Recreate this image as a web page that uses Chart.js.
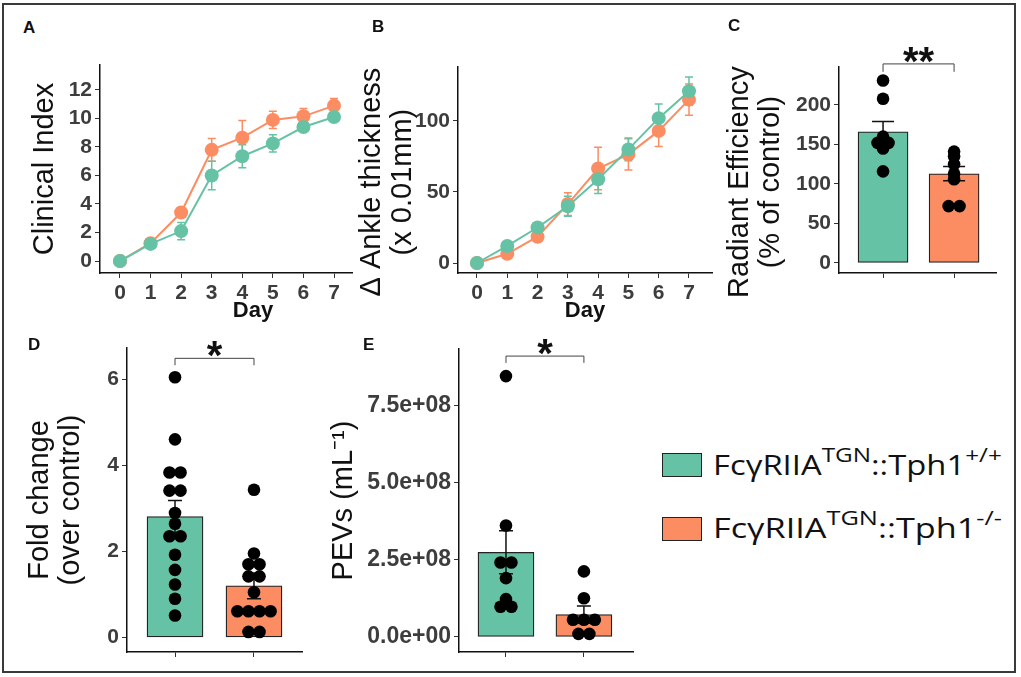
<!DOCTYPE html>
<html>
<head>
<meta charset="utf-8">
<script src="https://cdn.jsdelivr.net/npm/chart.js@4.4.1/dist/chart.umd.min.js"></script>
<style>
  body { margin: 0; background: #fff; width: 1021px; height: 677px; position: relative; overflow: hidden; font-family: 'Liberation Sans', Arial, sans-serif; }
  .frame { position: absolute; left: 2px; top: 3px; width: 1014px; height: 670px; box-sizing: border-box; border: 2px solid #3a3a3a; }
  canvas { position: absolute; }
  .lab { position: absolute; font-weight: bold; font-size: 17px; line-height: 1; color: #111; }
  .box { position: absolute; left: 662px; width: 40px; height: 24px; box-sizing: border-box; border: 1.5px solid #222; }
  .leg { position: absolute; left: 713px; font-family: 'Open Sans'; font-size: 27px; line-height: 27px; white-space: nowrap; transform-origin: 0 0; color: #111; }
  .leg sup { font-size: 20px; vertical-align: 13px; line-height: 0; }
</style>
</head>
<body>
<div class="frame"></div>

<canvas id="cA" width="406" height="290" style="left:10px;top:45px"></canvas>
<canvas id="cB" width="367" height="290" style="left:353px;top:45px;background:#fff"></canvas>
<canvas id="cC" width="290" height="295" style="left:720px;top:40px"></canvas>
<canvas id="cD" width="300" height="340" style="left:10px;top:325px"></canvas>
<canvas id="cE" width="325" height="340" style="left:320px;top:325px"></canvas>

<div class="lab" style="left:23px;top:19px">A</div>
<div class="lab" style="left:372px;top:18px">B</div>
<div class="lab" style="left:728px;top:17px">C</div>
<div class="lab" style="left:28px;top:336px">D</div>
<div class="lab" style="left:363px;top:336px">E</div>

<div class="box" style="top:453px;background:#66c2a5"></div>
<div class="leg" style="top:451px">FcγRIIA<sup>TGN</sup>::Tph1<sup>+/+</sup></div>
<div class="box" style="top:517px;background:#fc8d62"></div>
<div class="leg" style="top:514px">FcγRIIA<sup>TGN</sup>::Tph1<sup>-/-</sup></div>

<script>
const green = '#66c2a5';
const orange = '#fc8d62';

// A: clinical index per day
const days = [0, 1, 2, 3, 4, 5, 6, 7];
const clinGreen = [0, 1.2, 2.1, 6.0, 7.35, 8.25, 9.4, 10.1];
const clinGreenErr = [0, 0.1, 0.6, 1.0, 0.8, 0.6, 0.3, 0.3];
const clinOrange = [0, 1.25, 3.4, 7.8, 8.65, 9.9, 10.15, 10.9];
const clinOrangeErr = [0, 0.1, 0.3, 0.8, 1.2, 0.6, 0.55, 0.5];
const clinTicks = [0, 2, 4, 6, 8, 10, 12];

// B: ankle thickness per day
const ankGreen = [0, 12, 25, 40, 59, 80, 102, 121];
const ankGreenErr = [0, 2, 3, 7, 10, 8, 10, 10];
const ankOrange = [0, 6.5, 18.5, 41.5, 66.5, 76.5, 93, 115];
const ankOrangeErr = [0, 1.5, 3, 8, 15, 11, 11, 11];
const ankTicks = [0, 50, 100];

// C: radiant efficiency
const radMeans = [166, 113];
const radErr = [13, 9];
const radGreenPts = [231, 208, 160, 152, 152, 145, 116];
const radOrangePts = [141, 135, 125, 113, 106, 72, 72];
const radTicks = [0, 50, 100, 150, 200];

// D: fold change
const foldMeans = [2.81, 1.2];
const foldErr = [0.37, 0.3];
const foldGreenPts = [6.04, 4.6, 3.83, 3.83, 3.41, 3.41, 2.89, 2.64, 2.35, 2.35, 1.92, 1.57, 1.23, 0.9, 0.51];
const foldOrangePts = [3.43, 1.95, 1.7, 1.7, 1.42, 1.42, 1.05, 0.61, 0.61, 0.61, 0.61, 0.13, 0.13];
const foldTicks = [0, 2, 4, 6];

// E: PEVs per mL
const pevMeans = [2.75e8, 0.73e8];
const pevErr = [0.7e8, 0.28e8];
const pevGreenPts = [8.47e8, 3.62e8, 2.42e8, 2.42e8, 1.91e8, 1.23e8, 0.98e8, 0.98e8];
const pevOrangePts = [2.13e8, 1.26e8, 0.56e8, 0.56e8, 0.56e8, 0.1e8, 0.1e8];
const pevTicks = [0, 2.5e8, 5e8, 7.5e8];

Chart.defaults.font.family = "'Liberation Sans', Arial, sans-serif";
Chart.defaults.animation = false;

const titleFont = { size: 29, lineHeight: 1.07 };

function axisY(min, max, ticks, fmt, title, width, titlePad, tickSize) {
  return {
    type: 'linear', min: min, max: max, bounds: 'data',
    afterBuildTicks: s => { s.ticks = ticks.map(v => ({ value: v })); },
    afterFit: s => { s.width = width; s.paddingTop = 0; s.paddingBottom = 0; },
    grid: { drawOnChartArea: false, drawTicks: true, tickLength: 5, color: '#333' },
    border: { display: true, color: '#111', width: 1.5 },
    ticks: { color: '#3d3d3d', font: { size: tickSize || 21, weight: 'bold' }, padding: 3, callback: fmt },
    title: { display: true, text: title, color: '#111', font: titleFont, padding: { top: titlePad, bottom: 0 } }
  };
}

function axisX(min, max, ticks, height, title) {
  return {
    type: 'linear', min: min, max: max, bounds: 'data', offset: false,
    afterBuildTicks: s => { s.ticks = ticks.map(v => ({ value: v })); },
    afterFit: s => { s.height = height; s.paddingLeft = 0; s.paddingRight = 0; },
    grid: { offset: false, drawOnChartArea: false, drawTicks: true, tickLength: 5, color: '#333' },
    border: { display: true, color: '#111', width: 1.5 },
    ticks: { display: !!title, color: '#3d3d3d', font: { size: 21, weight: 'bold' }, padding: 3, maxRotation: 0 },
    title: { display: !!title, text: title, color: '#111', font: { size: 22, weight: 'bold' }, padding: { top: 0, bottom: 11 } }
  };
}

function lineErr(series) {
  return {
    id: 'lineErr',
    beforeDatasetsDraw(chart) {
      const { ctx, scales: { x, y } } = chart;
      series.forEach(s => {
        ctx.save();
        ctx.strokeStyle = s.color;
        ctx.lineWidth = 1.5;
        s.mean.forEach((m, i) => {
          if (!s.err[i]) return;
          const px = x.getPixelForValue(days[i]);
          const t = y.getPixelForValue(m + s.err[i]);
          const b = y.getPixelForValue(m - s.err[i]);
          ctx.beginPath();
          ctx.moveTo(px, t); ctx.lineTo(px, b);
          ctx.moveTo(px - 4, t); ctx.lineTo(px + 4, t);
          ctx.moveTo(px - 4, b); ctx.lineTo(px + 4, b);
          ctx.stroke();
        });
        ctx.restore();
      });
    }
  };
}

function lineSeries(vals, color) {
  return {
    data: days.map((d, i) => ({ x: d, y: vals[i] })),
    borderColor: color, backgroundColor: color, borderWidth: 2,
    pointRadius: 7, pointBorderWidth: 0, pointBackgroundColor: color
  };
}

function linePanel(id, g, gErr, o, oErr, ymin, ymax, yTicks, title, yWidth, titlePad, xmin, xmax, pad) {
  return new Chart(document.getElementById(id), {
    type: 'line',
    data: { datasets: [lineSeries(g, green), lineSeries(o, orange)] },
    options: {
      responsive: false,
      layout: { padding: pad },
      plugins: { legend: { display: false }, tooltip: { enabled: false } },
      scales: {
        x: axisX(xmin, xmax, days, 62, 'Day'),
        y: axisY(ymin, ymax, yTicks, v => v, title, yWidth, titlePad)
      }
    },
    plugins: [lineErr([{ mean: o, err: oErr, color: orange }, { mean: g, err: gErr, color: green }])]
  });
}

// tied values sit side by side, like a centred dot plot
function dotX(vals, center, step) {
  const count = {}, seen = {};
  vals.forEach(v => { count[v] = (count[v] || 0) + 1; });
  return vals.map(v => {
    const k = seen[v] = (seen[v] || 0) + 1;
    return { x: center + (k - 1 - (count[v] - 1) / 2) * step, y: v };
  });
}

function barPanel(id, p) {
  return new Chart(document.getElementById(id), {
    type: 'bar',
    data: {
      datasets: [
        {
          type: 'scatter',
          data: dotX(p.pts[0], 1, p.step).concat(dotX(p.pts[1], 2, p.step)),
          backgroundColor: '#000', pointRadius: 6.3, pointBorderWidth: 0
        },
        {
          type: 'bar',
          data: p.means.map((m, i) => ({ x: i + 1, y: m })),
          backgroundColor: [green, orange], borderColor: '#222', borderWidth: 1.3,
          borderSkipped: false, barThickness: p.barPx
        }
      ]
    },
    options: {
      responsive: false,
      layout: { padding: p.pad },
      plugins: { legend: { display: false }, tooltip: { enabled: false } },
      scales: {
        x: axisX(p.xmin, p.xmax, [1, 2], 13, ''),
        y: axisY(p.ymin, p.ymax, p.ticks, p.fmt, p.title, p.yWidth, p.titlePad, p.tickSize)
      }
    },
    plugins: [{
      id: 'barErr',
      afterDatasetDraw(chart, args) {
        if (args.meta.type !== 'bar') return;
        const { ctx, scales: { x, y } } = chart;
        ctx.save();
        ctx.strokeStyle = '#111';
        ctx.lineWidth = 1.5;
        p.means.forEach((m, i) => {
          const px = x.getPixelForValue(i + 1);
          const t = y.getPixelForValue(m + p.errs[i]);
          const b = y.getPixelForValue(m - p.errs[i]);
          ctx.beginPath();
          ctx.moveTo(px, t); ctx.lineTo(px, b);
          ctx.moveTo(px - p.cap / 2, t); ctx.lineTo(px + p.cap / 2, t);
          ctx.moveTo(px - p.cap / 2, b); ctx.lineTo(px + p.cap / 2, b);
          ctx.stroke();
        });
        ctx.restore();
      },
      afterDraw(chart) {
        const { ctx, scales: { x, y } } = chart;
        const s = p.sig;
        const x1 = x.getPixelForValue(s.from), x2 = x.getPixelForValue(s.to);
        const yb = y.getPixelForValue(s.y), yt = y.getPixelForValue(s.y - s.drop);
        ctx.save();
        ctx.strokeStyle = '#444';
        ctx.lineWidth = 1;
        ctx.beginPath();
        ctx.moveTo(x1, yt); ctx.lineTo(x1, yb); ctx.lineTo(x2, yb); ctx.lineTo(x2, yt);
        ctx.stroke();
        ctx.fillStyle = '#111';
        ctx.font = "bold 40px 'Liberation Sans', Arial";
        ctx.textAlign = 'center';
        ctx.textBaseline = 'alphabetic';
        ctx.fillText(s.label, (x1 + x2) / 2, yb + 11);
        ctx.restore();
      }
    }]
  });
}

function sci(v) {
  const parts = v.toExponential(1).split('e');
  const e = parts[1];
  return parts[0] + 'e' + e[0] + e.slice(1).padStart(2, '0');
}

// trailing spaces nudge the centred titles down a little, as in the figure
linePanel('cA', clinGreen, clinGreenErr, clinOrange, clinOrangeErr,
  -0.84, 13.75, clinTicks, 'Clinical Index', 90, 19.5, -0.654, 9.355,
  { top: 20, right: 10, bottom: 0, left: 0 });

linePanel('cB', ankGreen, ankGreenErr, ankOrange, ankOrangeErr,
  -7.04, 138, ankTicks, ['\u0394 Ankle thickness   ', '(x 0.01mm)   '], 105, 3, -0.627, 7.76,
  { top: 22, right: 8, bottom: 0, left: 0 });

barPanel('cC', {
  means: radMeans, errs: radErr, pts: [radGreenPts, radOrangePts], step: 0.155,
  ymin: -12.66, ymax: 248.1, ticks: radTicks, fmt: v => v,
  title: ['Radiant Efficiency   ', '(% of control)   '], yWidth: 119, titlePad: 4.5,
  xmin: 0.38, xmax: 2.59, barPx: 50, cap: 22,
  pad: { top: 27, right: 14, bottom: 49, left: 0 },
  sig: { from: 1, to: 2, y: 252, drop: 10, label: '**' }
});

barPanel('cD', {
  means: foldMeans, errs: foldErr, pts: [foldGreenPts, foldOrangePts], step: 0.14,
  ymin: -0.336, ymax: 6.72, ticks: foldTicks, fmt: v => v,
  title: ['Fold change', '(over control)'], yWidth: 117, titlePad: 14.5,
  xmin: 0.392, xmax: 2.608, barPx: 56, cap: 14,
  pad: { top: 23, right: 8, bottom: 0, left: 0 },
  sig: { from: 1, to: 2, y: 6.48, drop: 0.16, label: '*' }
});

barPanel('cE', {
  means: pevMeans, errs: pevErr, pts: [pevGreenPts, pevOrangePts], step: 0.14,
  ymin: -0.487e8, ymax: 9.35e8, ticks: pevTicks, fmt: sci, tickSize: 23,
  title: 'PEVs (mL\u207B\u00B9)', yWidth: 139, titlePad: 8.5,
  xmin: 0.397, xmax: 2.63, barPx: 56, cap: 14,
  pad: { top: 24, right: 12, bottom: 0, left: 0 },
  sig: { from: 1, to: 2, y: 9.12e8, drop: 0.22e8, label: '*' }
});

// legend text in the figure is drawn wide; fit it to the same span
document.querySelectorAll('.leg').forEach(el => {
  el.style.transform = 'scaleX(' + (289 / el.offsetWidth) + ')';
});
</script>
</body>
</html>
